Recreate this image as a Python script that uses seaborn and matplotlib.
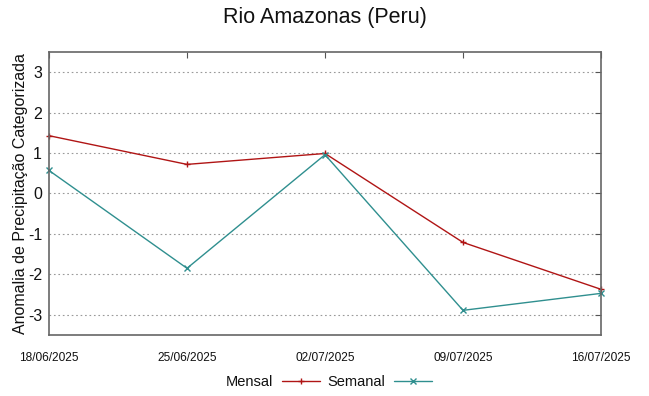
import matplotlib
matplotlib.use("Agg")
import matplotlib.pyplot as plt
import seaborn as sns
import pandas as pd

dates = ["18/06/2025", "25/06/2025", "02/07/2025", "09/07/2025", "16/07/2025"]
mensal = [1.43, 0.72, 0.99, -1.21, -2.37]
semanal = [0.57, -1.85, 0.96, -2.89, -2.47]
yticks = [-3, -2, -1, 0, 1, 2, 3]

sns.set_style("white")
plt.rcParams['font.family'] = ['Liberation Sans', 'DejaVu Sans']
plt.rcParams['text.color'] = '#111111'
plt.rcParams['axes.labelcolor'] = '#111111'
plt.rcParams['xtick.labelcolor'] = '#111111'
plt.rcParams['ytick.labelcolor'] = '#111111'

df = pd.DataFrame({
    "pos": list(range(len(dates))) * 2,
    "valor": mensal + semanal,
    "serie": ["Mensal"] * len(dates) + ["Semanal"] * len(dates),
})

fig = plt.figure(figsize=(6.49, 3.96), dpi=100)
ax = fig.add_axes([49/649, 1 - 335/396, 552/649, 283/396])

palette = {"Mensal": "#b01515", "Semanal": "#2f8f8f"}
markers = {"Mensal": "+", "Semanal": "x"}
sns.lineplot(data=df, x="pos", y="valor", hue="serie", style="serie",
             palette=palette, markers=markers, dashes=False, ax=ax,
             linewidth=1.0, markersize=5, markeredgewidth=1.0)
for ln in ax.lines:
    ln.set_markeredgecolor(ln.get_color())
    ln.set_clip_on(False)

ax.set_xlim(0, len(dates) - 1)
ax.set_ylim(-3.5, 3.5)
ax.set_xticks(range(len(dates)))
ax.set_xticklabels(dates, fontsize=8.6)
ax.set_yticks(yticks)
ax.set_yticklabels([str(v) for v in yticks], fontsize=11.5)
ax.yaxis.grid(True, linestyle=(0, (1.5, 2.5)), color="#999999", linewidth=0.8)
ax.xaxis.grid(False)
ax.tick_params(axis="both", direction="in", length=4, color="#555555",
               top=True, right=True)
ax.tick_params(axis="x", pad=12)
ax.tick_params(axis="y", pad=5)
for s in ax.spines.values():
    s.set_color("#666666")
    s.set_linewidth(1.2)
ax.set_xlabel("")
ax.set_ylabel("Anomalia de Precipitação Categorizada", fontsize=11.5, labelpad=0)
fig.suptitle("Rio Amazonas (Peru)", fontsize=15.5, y=1 - 7/396, va="top")

h, l = ax.get_legend_handles_labels()
for hd in h:
    hd.set_markeredgecolor(hd.get_color())
    hd.set_markersize(5)
ax.legend(h, l, loc="center", bbox_to_anchor=(329/649, 1 - 382/396),
          bbox_transform=fig.transFigure, ncol=2, frameon=False,
          markerfirst=False, fontsize=10.5, handlelength=2.6,
          columnspacing=0.5, handletextpad=0.6)

fig.savefig("out.png", dpi=100)
